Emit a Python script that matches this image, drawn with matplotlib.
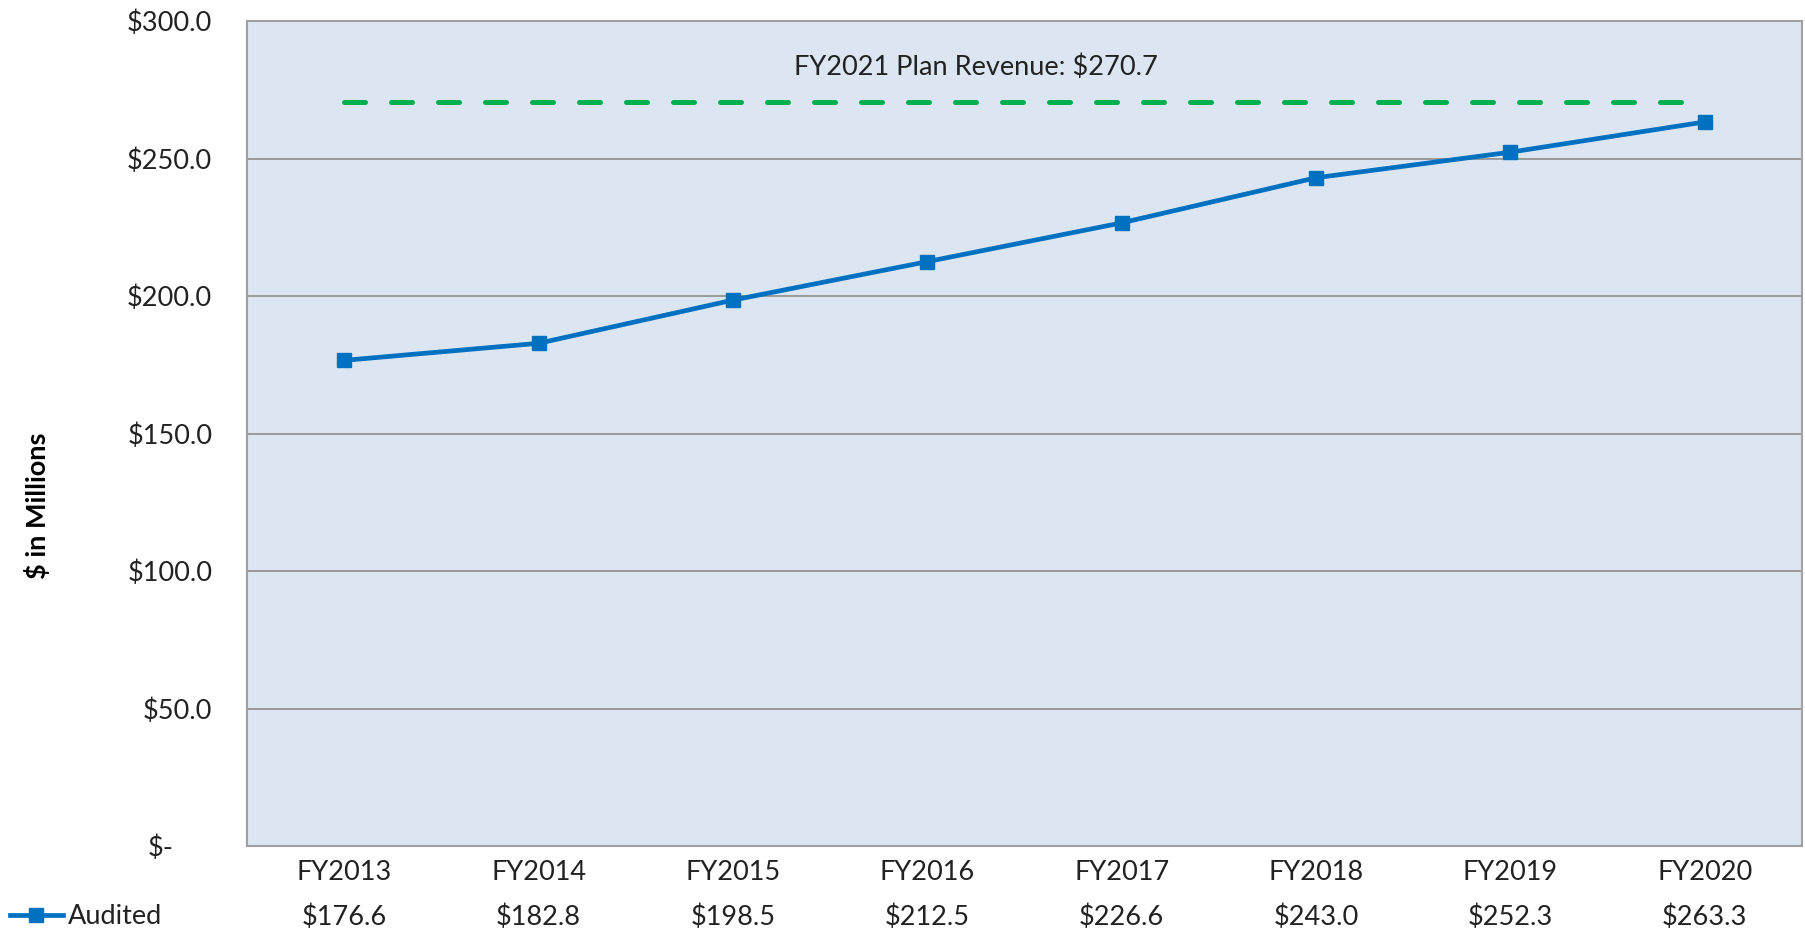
import matplotlib
matplotlib.use("Agg")
import matplotlib.pyplot as plt
import matplotlib.transforms as mtransforms
from matplotlib.lines import Line2D

# Chart data
years = ["FY2013", "FY2014", "FY2015", "FY2016", "FY2017", "FY2018", "FY2019", "FY2020"]
audited = [176.6, 182.8, 198.5, 212.5, 226.6, 243.0, 252.3, 263.3]
plan_revenue = 270.7
y_ticks = [0, 50, 100, 150, 200, 250, 300]

text_color = "#222222"
line_color = "#0070C0"
plan_color = "#00B050"
fs = 19.5

plt.rcParams["font.family"] = ["Lato", "DejaVu Sans"]
plt.rcParams["font.size"] = fs

fig = plt.figure(figsize=(18.05, 9.33), dpi=100)
ax = fig.add_axes([247 / 1805, 1 - 846 / 933, 1555 / 1805, 825 / 933])
ax.set_facecolor("#DCE6F2")

x = list(range(len(years)))

# plan revenue line spans first to last year
ax.plot([x[0], x[-1]], [plan_revenue, plan_revenue], color=plan_color, lw=3.6,
        dashes=(4.2, 5.2), dash_capstyle="round", zorder=3)
ax.text(3.25, 283, f"FY2021 Plan Revenue: ${plan_revenue:.1f}", ha="center", va="center",
        color=text_color, fontsize=fs)

ax.plot(x, audited, color=line_color, lw=3.4, marker="s", markersize=10,
        markerfacecolor=line_color, markeredgecolor=line_color, zorder=4)

ax.set_xlim(-0.5, len(years) - 0.5)
ax.set_ylim(0, 300)
ax.set_yticks(y_ticks)
ax.set_yticklabels(["$-"] + [f"${v:.1f}" for v in y_ticks[1:]])
ax.set_xticks([])
ax.tick_params(axis="y", length=0, pad=25, labelcolor=text_color, labelsize=fs)
ax.grid(axis="y", color="#8C8C8C", lw=1.2)
ax.set_axisbelow(True)
for s in ax.spines.values():
    s.set_color("#A0A0A0")
    s.set_linewidth(1.5)

# accounting style "$-" sits further left
zero_lbl = ax.get_yticklabels()[0]
zero_lbl.set_transform(zero_lbl.get_transform() +
                       mtransforms.ScaledTranslation(-39 / 100, 0, fig.dpi_scale_trans))

# data table below the axes
trans = mtransforms.blended_transform_factory(ax.transData, fig.transFigure)
for xi, yr, val in zip(x, years, audited):
    ax.text(xi, 1 - 872 / 933, yr, transform=trans, ha="center", va="center",
            color=text_color, fontsize=fs)
    ax.text(xi, 1 - 917 / 933, f"${val:.1f}", transform=trans, ha="center", va="center",
            color=text_color, fontsize=fs)

handle = Line2D([], [], color=line_color, lw=3.4, marker="s", markersize=10)
fig.legend([handle], ["Audited"], loc="center left", bbox_to_anchor=(10 / 1805, 1 - 917 / 933),
           frameon=False, handlelength=1.95, handletextpad=0.2, borderpad=0, borderaxespad=0,
           labelcolor=text_color, fontsize=fs)

fig.text(37 / 1805, 1 - 506 / 933, "$ in Millions", rotation=90, ha="center", va="center",
         fontweight="bold", color="black", fontsize=fs)

fig.savefig("out.png", dpi=100)
